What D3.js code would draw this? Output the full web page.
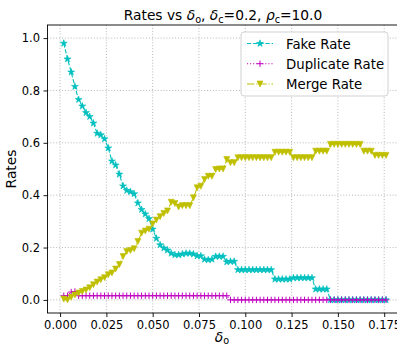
<!DOCTYPE html>
<html>
<head>
<meta charset="utf-8">
<script src="https://cdn.jsdelivr.net/npm/d3@7"></script>
<style>
  body { margin: 0; background: #fff; }
  svg { display: block; font-family: "DejaVu Sans", sans-serif; }
</style>
</head>
<body>
<div id="chart"></div>
<script>
// values
var delta = [0.002, 0.004, 0.006, 0.008, 0.010, 0.012, 0.014, 0.016, 0.018, 0.020,
  0.022, 0.024, 0.026, 0.028, 0.030, 0.032, 0.034, 0.036, 0.038, 0.040,
  0.042, 0.044, 0.046, 0.048, 0.050, 0.052, 0.054, 0.056, 0.058, 0.060,
  0.062, 0.064, 0.066, 0.068, 0.070, 0.072, 0.074, 0.076, 0.078, 0.080,
  0.082, 0.084, 0.086, 0.088, 0.090, 0.092, 0.094, 0.096, 0.098, 0.100,
  0.102, 0.104, 0.106, 0.108, 0.110, 0.112, 0.114, 0.116, 0.118, 0.120,
  0.122, 0.124, 0.126, 0.128, 0.130, 0.132, 0.134, 0.136, 0.138, 0.140,
  0.142, 0.144, 0.146, 0.148, 0.150, 0.152, 0.154, 0.156, 0.158, 0.160,
  0.162, 0.164, 0.166, 0.168, 0.170, 0.172, 0.174, 0.176];

var fakeRate = [0.98, 0.92, 0.87, 0.815, 0.765, 0.74, 0.715, 0.70, 0.675, 0.636,
  0.63, 0.615, 0.58, 0.53, 0.515, 0.48, 0.435, 0.418, 0.413, 0.405,
  0.37, 0.345, 0.328, 0.31, 0.27, 0.235, 0.21, 0.198, 0.19, 0.178,
  0.172, 0.172, 0.175, 0.178, 0.178, 0.175, 0.168, 0.168, 0.155, 0.153,
  0.155, 0.166, 0.166, 0.166, 0.145, 0.147, 0.147, 0.115, 0.115, 0.115,
  0.115, 0.115, 0.115, 0.115, 0.115, 0.115, 0.115, 0.079, 0.079, 0.079,
  0.079, 0.079, 0.084, 0.084, 0.084, 0.084, 0.084, 0.084, 0.041, 0.041,
  0.041, 0.041, 0, 0, 0, 0, 0, 0, 0, 0,
  0, 0, 0, 0, 0, 0, 0, 0];

var duplicateRate = [0.016, 0.016, 0.03, 0.032, 0.016, 0.016, 0.016, 0.016, 0.016, 0.016,
  0.016, 0.016, 0.016, 0.016, 0.016, 0.016, 0.016, 0.016, 0.016, 0.016,
  0.016, 0.016, 0.016, 0.016, 0.016, 0.016, 0.016, 0.016, 0.016, 0.016,
  0.016, 0.016, 0.016, 0.016, 0.016, 0.016, 0.016, 0.016, 0.016, 0.016,
  0.016, 0.016, 0.016, 0.016, 0.016, 0, 0, 0, 0, 0,
  0, 0, 0, 0, 0, 0, 0, 0, 0, 0,
  0, 0, 0, 0, 0, 0, 0, 0, 0, 0,
  0, 0, 0, 0, 0, 0, 0, 0, 0, 0,
  0, 0, 0, 0, 0, 0, 0, 0];

var mergeRate = [0.003, 0.0, 0.01, 0.019, 0.026, 0.032, 0.038, 0.046, 0.058, 0.068,
  0.077, 0.085, 0.096, 0.103, 0.118, 0.135, 0.166, 0.185, 0.189, 0.195,
  0.223, 0.255, 0.263, 0.27, 0.29, 0.305, 0.318, 0.33, 0.34, 0.373,
  0.368, 0.355, 0.36, 0.36, 0.36, 0.39, 0.428, 0.434, 0.46, 0.472,
  0.472, 0.498, 0.50, 0.50, 0.536, 0.524, 0.524, 0.543, 0.543, 0.543,
  0.543, 0.543, 0.543, 0.543, 0.543, 0.543, 0.543, 0.564, 0.564, 0.564,
  0.564, 0.564, 0.543, 0.543, 0.543, 0.543, 0.543, 0.543, 0.568, 0.568,
  0.568, 0.568, 0.594, 0.594, 0.594, 0.594, 0.594, 0.594, 0.594, 0.594,
  0.594, 0.568, 0.568, 0.568, 0.552, 0.552, 0.552, 0.552];

var xTicks = [0, 0.025, 0.05, 0.075, 0.1, 0.125, 0.15, 0.175];
var yTicks = [0, 0.2, 0.4, 0.6, 0.8, 1.0];

var W = 397, H = 347;
var pL = 47.5, pR = 399, pT = 25, pB = 313;

var svg = d3.select("#chart").append("svg").attr("width", W).attr("height", H);

var x = d3.scaleLinear().domain([-0.0068, 0.183]).range([pL, pR]);
var y = d3.scaleLinear().domain([-0.05, 1.05]).range([pB, pT]);

// grid
var grid = svg.append("g").attr("stroke", "#b0b0b0").attr("stroke-width", 0.9).attr("stroke-dasharray", "1,1.9");
grid.selectAll(".gx").data(xTicks).enter().append("line")
  .attr("x1", d => x(d)).attr("x2", d => x(d)).attr("y1", pT).attr("y2", pB);
grid.selectAll(".gy").data(yTicks).enter().append("line")
  .attr("x1", pL).attr("x2", pR).attr("y1", d => y(d)).attr("y2", d => y(d));

// axes
svg.append("g").attr("transform", "translate(0," + pB + ")")
  .call(d3.axisBottom(x).tickValues(xTicks).tickFormat(d3.format(".3f")).tickSizeOuter(0).tickSize(4).tickPadding(3.5));
svg.append("g").attr("transform", "translate(" + pL + ",0)")
  .call(d3.axisLeft(y).tickValues(yTicks).tickFormat(d3.format(".1f")).tickSizeOuter(0).tickSize(4).tickPadding(3.5));
svg.selectAll(".tick text").attr("font-size", "11.5px").attr("font-family", "DejaVu Sans").attr("fill", "#000");
svg.selectAll(".tick line").attr("stroke", "#000").attr("stroke-width", 0.9);
svg.selectAll(".domain").remove();

// spines
svg.append("rect").attr("x", pL).attr("y", pT).attr("width", pR - pL).attr("height", pB - pT)
  .attr("fill", "none").attr("stroke", "#000").attr("stroke-width", 0.9);

var star = d3.symbol().type(d3.symbolStar).size(15);
var triDown = "M0,3L-3,-3L3,-3Z";

var series = [
  { name: "Fake Rate", values: fakeRate, color: "#00bfbf", dash: "4.3,1.85", marker: "star" },
  { name: "Duplicate Rate", values: duplicateRate, color: "#bf00bf", dash: "1.15,1.9", marker: "plus" },
  { name: "Merge Rate", values: mergeRate, color: "#bfbf00", dash: "7.4,1.85,1.15,1.85", marker: "tri" }
];

function drawMarker(g, m, color) {
  if (m == "star") {
    g.append("path").attr("d", star).attr("fill", color).attr("stroke", color).attr("stroke-width", 0.6);
  } else if (m == "plus") {
    g.append("path").attr("d", "M-3.2,0H3.2M0,-3.2V3.2").attr("stroke", color).attr("stroke-width", 1).attr("fill", "none");
  } else {
    g.append("path").attr("d", triDown).attr("fill", color).attr("stroke", color).attr("stroke-width", 0.6);
  }
}

var line = d3.line().x((d, i) => x(delta[i])).y(d => y(d));

series.forEach(function (s) {
  svg.append("path").datum(s.values).attr("d", line)
    .attr("fill", "none").attr("stroke", s.color).attr("stroke-width", 1.1).attr("stroke-dasharray", s.dash);
  svg.append("g").selectAll("g").data(s.values).enter().append("g")
    .attr("transform", (d, i) => "translate(" + x(delta[i]) + "," + y(d) + ")")
    .each(function () { drawMarker(d3.select(this), s.marker, s.color); });
});

// legend
var lg = svg.append("g");
lg.append("rect").attr("x", 241).attr("y", 32).attr("width", 147).attr("height", 64).attr("rx", 3)
  .attr("fill", "#fff").attr("fill-opacity", 0.8).attr("stroke", "#cccccc").attr("stroke-width", 0.9);
var rowY = [43.5, 63.7, 84];
series.forEach(function (s, i) {
  lg.append("line").attr("x1", 247).attr("x2", 273).attr("y1", rowY[i]).attr("y2", rowY[i])
    .attr("stroke", s.color).attr("stroke-width", 1.1).attr("stroke-dasharray", s.dash);
  drawMarker(lg.append("g").attr("transform", "translate(260," + rowY[i] + ")"), s.marker, s.color);
  lg.append("text").attr("x", 286).attr("y", rowY[i] + 5).attr("font-size", "13.3px").text(s.name);
});

// mathtext-like labels
function mtext(t, parts, size) {
  parts.forEach(function (p) {
    var ts = t.append("tspan").text(p[0]);
    if (p[1] == "i") ts.attr("font-style", "italic");
    if (p[1] == "sub") ts.attr("font-size", (size * 0.7) + "px").attr("dy", size * 0.2);
    if (p[1] == "back") ts.attr("dy", -size * 0.2);
  });
}

var title = svg.append("text").attr("x", 223).attr("y", 20).attr("text-anchor", "middle").attr("font-size", "13.8px");
mtext(title, [["Rates vs "], ["δ", "i"], ["o", "sub"], [", ", "back"], ["δ", "i"], ["c", "sub"], ["=0.2, ", "back"],
  ["ρ", "i"], ["c", "sub"], ["=10.0", "back"]], 13.8);

var xl = svg.append("text").attr("x", 222).attr("y", 341.5).attr("text-anchor", "middle").attr("font-size", "13.8px");
mtext(xl, [["δ", "i"], ["o", "sub"]], 13.8);

svg.append("text").attr("transform", "translate(16,169) rotate(-90)").attr("text-anchor", "middle")
  .attr("font-size", "13.8px").text("Rates");
</script>
</body>
</html>
